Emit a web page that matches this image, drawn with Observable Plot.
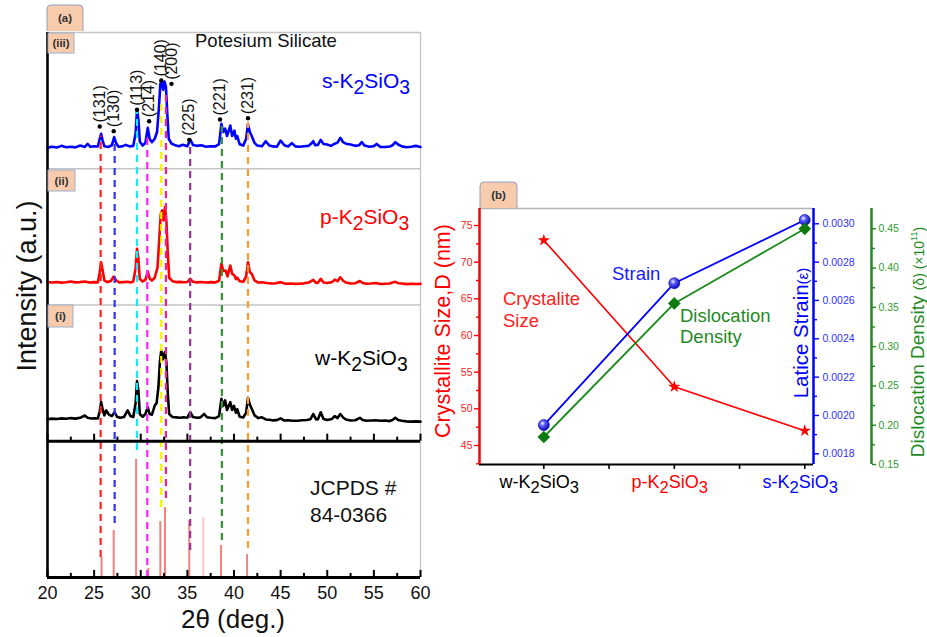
<!DOCTYPE html>
<html><head><meta charset="utf-8">
<script src="https://cdn.jsdelivr.net/npm/d3@7"></script>
<script src="https://cdn.jsdelivr.net/npm/@observablehq/plot@0.6"></script>
<style>
body{margin:0;background:#fff;}
#root{position:relative;width:927px;height:637px;overflow:hidden;background:#fff;}
</style></head><body><div id="root"></div>
<script>
const FONT = "Arial, 'Liberation Sans', Helvetica, sans-serif";

// ---------------- Panel (a): XRD patterns ----------------
const sK2SiO3 = [[20.0,15.5],[20.5,16.2],[21.0,15.6],[21.5,16.8],[22.0,15.8],[22.5,16.2],[23.0,15.7],[23.5,17.0],[24.0,16.0],[24.3,18.2],[24.6,16.1],[25.0,16.5],[25.4,16.3],[25.6,22],[25.75,25.6],[25.9,21],[26.1,16.5],[26.5,16.0],[26.9,17.2],[27.15,23.2],[27.35,19],[27.6,16.2],[28.0,16.4],[28.4,17.5],[28.8,16.4],[29.2,16.8],[29.45,26],[29.6,43.3],[29.75,36],[29.9,20],[30.2,17],[30.5,19],[30.75,30],[30.95,22],[31.2,19.5],[31.5,22],[31.75,27],[31.95,45],[32.1,62],[32.25,64.8],[32.4,58],[32.55,64],[32.7,60],[32.85,40],[33.0,22],[33.3,18.5],[33.7,17.2],[34.1,16.5],[34.5,17.6],[35.0,16.5],[35.3,21.5],[35.6,17.5],[36.0,16.8],[36.5,17.2],[37.0,16.2],[37.5,16.5],[38.0,16.4],[38.4,18],[38.65,33],[38.85,27],[39.05,29.5],[39.25,24],[39.6,31.7],[39.8,24],[40.05,28],[40.2,22],[40.35,24],[40.6,18],[41.0,17],[41.3,22],[41.5,32.5],[41.7,27],[41.9,24],[42.2,19],[42.5,17],[43.0,16.5],[43.4,20.2],[43.8,17.0],[44.2,16.4],[44.6,16.2],[45.0,20.7],[45.4,17.2],[45.8,16.3],[46.2,18.8],[46.6,16.4],[47.0,16.2],[47.5,16.5],[48.0,16.8],[48.3,18.5],[48.5,20.2],[48.7,17.2],[49.0,17.5],[49.3,21.2],[49.6,18.2],[50.0,17.8],[50.4,16.8],[50.8,18.4],[51.1,19.2],[51.4,22.7],[51.7,19.5],[52.0,18.4],[52.5,17.8],[53.0,16.8],[53.4,17.2],[53.7,19.5],[54.0,17.0],[54.5,16.2],[55.0,16.6],[55.3,18.2],[55.7,16.0],[56.2,16.0],[56.7,16.3],[57.0,17.2],[57.3,19.5],[57.6,17.8],[58.0,16.4],[58.5,15.8],[59.0,16.2],[59.5,16.8],[60.0,16.0]];

const pK2SiO3 = [[20.0,16.8],[20.5,16.5],[21.0,16.9],[21.5,16.4],[22.0,16.7],[22.5,17.2],[23.0,16.6],[23.5,16.8],[24.0,17.3],[24.5,16.5],[25.0,16.8],[25.4,16.6],[25.6,24],[25.75,31.4],[25.9,26],[26.1,18],[26.4,16.8],[26.8,17.6],[27.1,20.9],[27.35,18],[27.7,16.6],[28.1,16.8],[28.5,17.0],[28.9,16.6],[29.2,17.2],[29.45,27],[29.6,41.2],[29.75,34],[29.9,19],[30.2,17.3],[30.5,18.5],[30.75,24.6],[30.95,19.5],[31.2,18],[31.5,20],[31.8,27.7],[32.0,50],[32.15,67],[32.3,69.4],[32.45,62],[32.6,71.8],[32.75,62],[32.9,38],[33.05,20],[33.4,17.5],[33.8,16.8],[34.2,17.0],[34.6,16.7],[35.0,16.9],[35.3,19.2],[35.6,17.0],[36.0,16.6],[36.5,16.9],[37.0,16.5],[37.5,16.8],[38.0,16.6],[38.4,17.8],[38.65,30.5],[38.85,25],[39.1,25.3],[39.3,21],[39.6,29],[39.8,23],[40.05,21.7],[40.2,19],[40.35,20],[40.6,17.5],[41.0,17],[41.3,21],[41.5,31.4],[41.7,24],[41.9,22.9],[42.2,18],[42.6,16.5],[43.0,16.7],[43.5,16.2],[44.0,15.8],[44.5,16.0],[45.0,16.8],[45.5,15.6],[46.0,15.8],[46.5,15.5],[47.0,15.6],[47.5,15.9],[48.0,16.5],[48.5,18.5],[48.8,16.2],[49.0,16.4],[49.3,19.2],[49.6,16.5],[50.0,16.2],[50.5,16.8],[50.8,18.6],[51.1,17.5],[51.4,20.4],[51.7,17.8],[52.0,16.5],[52.5,15.8],[53.0,16.0],[53.5,17.6],[53.8,16.2],[54.2,15.6],[54.7,15.8],[55.2,16.2],[55.7,15.4],[56.2,15.6],[56.7,15.8],[57.0,16.5],[57.3,17.0],[57.6,16.0],[58.0,15.8],[58.5,15.3],[59.0,15.6],[59.5,15.4],[60.0,15.5]];

const wK2SiO3 = [[20.0,16.2],[20.5,16.6],[21.0,16.3],[21.5,16.8],[22.0,16.5],[22.5,17.0],[23.0,16.6],[23.5,17.2],[24.0,18.9],[24.3,17.3],[24.7,16.7],[25.0,16.9],[25.4,16.8],[25.6,22],[25.75,28.7],[25.9,24],[26.1,19],[26.3,22.6],[26.6,19.5],[26.9,18.5],[27.2,21.3],[27.45,18],[27.8,17.2],[28.2,17.8],[28.6,22.6],[28.9,18.5],[29.2,17.8],[29.45,28],[29.6,44.1],[29.75,37],[29.9,20],[30.2,18],[30.5,20],[30.75,25],[30.95,20],[31.2,19.5],[31.5,26.2],[31.7,28],[31.9,40],[32.05,58],[32.2,66.6],[32.35,60],[32.5,64],[32.6,65.4],[32.75,58],[32.9,35],[33.05,20],[33.4,17.8],[33.8,17.5],[34.2,17.2],[34.6,17.6],[35.0,17.3],[35.3,21.3],[35.6,17.8],[36.0,17.2],[36.4,17.5],[36.8,20],[37.1,17.6],[37.5,17.2],[38.0,17.0],[38.4,18.5],[38.65,31.2],[38.85,26],[39.05,30],[39.25,23],[39.6,28.7],[39.8,23],[40.0,26],[40.2,21],[40.35,23.5],[40.6,18],[41.0,17.5],[41.3,21],[41.5,31.9],[41.7,27],[41.9,23.8],[42.2,19],[42.6,17],[43.0,17.6],[43.4,16],[43.8,15.8],[44.2,15.3],[44.6,15.5],[45.0,16.8],[45.4,15.2],[45.8,15.4],[46.3,15.1],[46.8,15.0],[47.3,15.4],[47.8,15.6],[48.2,16.2],[48.5,20],[48.8,16.0],[49.0,16.2],[49.3,21.3],[49.6,16.4],[50.0,15.6],[50.5,16.4],[50.8,18.5],[51.1,17.0],[51.4,20],[51.7,17.4],[52.0,16],[52.5,15.2],[53.0,15.4],[53.5,17.2],[53.8,15.6],[54.2,15.0],[54.7,15.2],[55.2,15.4],[55.7,15.0],[56.2,15.2],[56.7,14.8],[57.0,15.6],[57.3,17.2],[57.6,15.6],[58.0,15.0],[58.5,14.6],[59.0,14.4],[59.5,14.6],[60.0,14.4]];

// JCPDS 84-0366 reference sticks
const jcpdsTheta = [25.8, 27.1, 29.5, 30.8, 32.1, 32.6, 35.2, 36.7, 38.6, 41.4];
const jcpdsInt   = [14.7, 34.5, 86.6, 6.6, 41.1, 51.4, 41.8, 44.0, 23.5, 16.9];
const stickColors = ["#f58080","#f58080","#f58080","#f58080","#f58080","#f58080","#f58080","#fcc8c8","#f58080","#f58080"];

// guide lines through the peaks
const guideTheta  = [25.7, 27.2, 29.6, 30.7, 32.2, 32.7, 35.3, 38.7, 41.5];
const guideTop    = [324, 318, 342, 325, 350, 356, 316, 331, 334];
const guideBottom = [14.7, 39.6, 93.2, 0, 51.4, 58, 19.8, 27.2, 21.3];
const guideColors = ["#ff2020","#3030ff","#20e4ee","#ff20ff","#f2f200","#ff1a8c","#993399","#2e9a2e","#ff9a33"];

// Miller indices
const hklLabels = ["(131)","(130)","(113)","(214)","(140)","(200)","(225)","(221)","(231)"];
const hklTheta  = [25.6, 27.1, 29.6, 30.9, 32.2, 33.3, 35.2, 38.5, 41.5];
const hklY      = [331, 327.6, 343.3, 334.9, 364.8, 362.3, 321.2, 336.1, 337.1];

const xTicksMajor = [20,25,30,35,40,45,50,55,60];
const xTicksMinor = [22.5,27.5,32.5,37.5,42.5,47.5,52.5,57.5];

// ---------------- Panel (b) ----------------
const samples = ["w-K2SiO3", "p-K2SiO3", "s-K2SiO3"];
const crystalliteSize = [73, 53, 47];          // nm
const latticeStrain   = [0.00195, 0.00269, 0.00302];
const dislocation     = [0.185, 0.355, 0.45];  // x10^11
const sizeTicks = [45,50,55,60,65,70,75];
const sizeMinor = [42.5,47.5,52.5,57.5,62.5,67.5,72.5];
const strainTicks = [0.0018,0.0020,0.0022,0.0024,0.0026,0.0028,0.0030];
const strainMinor = [0.0019,0.0021,0.0023,0.0025,0.0027,0.0029];
const disTicks = [0.15,0.20,0.25,0.30,0.35,0.40,0.45];
const disMinor = [0.175,0.225,0.275,0.325,0.375,0.425];
const sampleColors = ["#000000", "#ff0000", "#0000ff"];

// ---------------- helpers ----------------
const root = document.getElementById("root");
const baseStyle = {position: "absolute", left: "0px", top: "0px", background: "transparent", fontFamily: FONT, overflow: "visible"};

function richParts(svg, parts, {x, y, fill = "#000", anchor = "start", rotate = 0, weight = "normal"}) {
  const t = d3.select(svg).append("text")
    .attr("transform", `translate(${x},${y})` + (rotate ? ` rotate(${rotate})` : ""))
    .attr("font-family", FONT).attr("fill", fill)
    .attr("text-anchor", anchor).attr("font-weight", weight);
  let shift = 0;
  for (const [txt, size, dy] of parts) {
    t.append("tspan").text(txt).attr("font-size", size).attr("dy", dy - shift);
    shift = dy;
  }
  return t;
}
function chem(svg, str, size, opts) {
  // digits following a letter become subscripts
  const parts = [];
  str.split(/(?<=[A-Za-z])(\d+)/).forEach((p, i) => {
    if (!p) return;
    if (i % 2 === 1) parts.push([p, size * 0.92, size * 0.3]);
    else parts.push([p, size, 0]);
  });
  return richParts(svg, parts, opts);
}
function tab(svg, x0, y0, x1, y1, label, rounded) {
  const s = d3.select(svg);
  if (rounded) {
    s.append("path").attr("d", `M${x0},${y1} V${y0+4} Q${x0},${y0} ${x0+4},${y0} H${x1-4} Q${x1},${y0} ${x1},${y0+4} V${y1}`)
      .attr("fill", "#f8cbad").attr("stroke", "#8da0c0").attr("stroke-width", 1);
  } else {
    s.append("rect").attr("x", x0).attr("y", y0).attr("width", x1 - x0).attr("height", y1 - y0)
      .attr("fill", "#f8cbad").attr("stroke", "#9fb0cc").attr("stroke-width", 1);
  }
  s.append("text").attr("x", (x0 + x1) / 2).attr("y", (y0 + y1) / 2 + 4).attr("text-anchor", "middle")
    .attr("font-family", FONT).attr("font-size", 11.5).attr("font-weight", "bold").attr("fill", "#333").text(label);
}

// ---------------- Plot A ----------------
const toRows = (pairs, off) => pairs.map(([t, v]) => ({t, y: v + off}));
const jcpdsRows = jcpdsTheta.map((t, i) => ({t, h: jcpdsInt[i], c: stickColors[i]}));
const guideRows = guideTheta.map((t, i) => ({t, y1: guideBottom[i], y2: guideTop[i], c: guideColors[i]}));
const hklRows = hklTheta.map((t, i) => ({t, y: hklY[i], label: hklLabels[i]}));
const tickRows = (ts, len) => ts.flatMap(t => [{t, b: 0, e: len}, {t, b: 100, e: 100 + len}]);

const plotA = Plot.plot({
  width: 927, height: 637,
  marginLeft: 47, marginRight: 507, marginTop: 32, marginBottom: 60,
  x: {domain: [20, 60]},
  y: {domain: [0, 400], axis: null},
  color: {type: "identity"},
  style: baseStyle,
  marks: [
    Plot.ruleY([200, 300, 400], {stroke: "#c4c4c4", strokeWidth: 1.3}),
    Plot.ruleX([60], {stroke: "#c4c4c4", strokeWidth: 1.3}),
    Plot.ruleX(jcpdsRows, {x: "t", y1: 0, y2: "h", stroke: "c", strokeWidth: 2}),
    Plot.line(toRows(wK2SiO3, 100), {x: "t", y: "y", stroke: "#000000", strokeWidth: 2.6}),
    Plot.line(toRows(pK2SiO3, 200), {x: "t", y: "y", stroke: "#ff0000", strokeWidth: 2.6}),
    Plot.line(toRows(sK2SiO3, 300), {x: "t", y: "y", stroke: "#0000ff", strokeWidth: 2.6}),
    Plot.ruleX(guideRows, {x: "t", y1: "y1", y2: "y2", stroke: "c", strokeWidth: 2.2, strokeDasharray: "7,5"}),
    Plot.ruleY([0, 100], {stroke: "#000", strokeWidth: 2.8}),
    Plot.ruleX([20], {stroke: "#000", strokeWidth: 2.6}),
    Plot.ruleX(tickRows(xTicksMajor, 5.2), {x: "t", y1: "b", y2: "e", stroke: "#000", strokeWidth: 2}),
    Plot.ruleX(tickRows(xTicksMinor, 3), {x: "t", y1: "b", y2: "e", stroke: "#000", strokeWidth: 2}),
    Plot.axisX({anchor: "bottom", ticks: xTicksMajor, tickSize: 0, tickPadding: 9, fontSize: 18, label: null, fill: "#111"}),
    Plot.dot(hklRows, {x: "t", y: "y", r: 2.2, fill: "#000"}),
    Plot.text(hklRows, {x: "t", y: "y", text: "label", rotate: -90, textAnchor: "start", dy: -4, fontSize: 16, fill: "#111"})
  ]
});
root.appendChild(plotA);

// texts of panel (a)
richParts(plotA, [["Potesium Silicate", 18.5, 0]], {x: 195, y: 47, fill: "#111"});
chem(plotA, "s-K2SiO3", 21, {x: 322, y: 88, fill: "#0000ff"});
chem(plotA, "p-K2SiO3", 21, {x: 320, y: 224, fill: "#ff0000"});
chem(plotA, "w-K2SiO3", 21, {x: 315, y: 365, fill: "#000"});
richParts(plotA, [["JCPDS #", 21, 0]], {x: 310, y: 495, fill: "#111"});
richParts(plotA, [["84-0366", 21, 0]], {x: 310, y: 522, fill: "#111"});
richParts(plotA, [["Intensity (a.u.)", 27, 0]], {x: 36, y: 286, rotate: -90, anchor: "middle", fill: "#111"});
richParts(plotA, [["2θ (deg.)", 26, 0]], {x: 233, y: 628, anchor: "middle", fill: "#111"});
tab(plotA, 47, 5, 83, 31, "(a)", true);
tab(plotA, 48, 33, 74, 53, "(iii)", false);
tab(plotA, 48, 170, 75, 191, "(ii)", false);
tab(plotA, 48, 305, 73, 327, "(i)", false);

// ---------------- Plot B (three overlaid y scales) ----------------
const rowsB = samples.map((s, i) => ({i: i + 1, size: crystalliteSize[i], strain: latticeStrain[i], dis: dislocation[i]}));
const xB = [0.507, 3.067];
const frameB = {width: 927, height: 637, marginLeft: 479, marginRight: 114, marginTop: 208, marginBottom: 173, style: baseStyle};

const plotB1 = Plot.plot({
  ...frameB,
  x: {domain: xB},
  y: {domain: [42.41, 77.32]},
  marks: [
    Plot.ruleY([77.32], {stroke: "#b4b4b4", strokeWidth: 1.3}),
    Plot.ruleY([42.41], {stroke: "#000", strokeWidth: 2}),
    Plot.axisX({anchor: "bottom", ticks: [1, 1.5, 2, 2.5, 3], tickSize: 5, fill: "none", stroke: "#000", strokeWidth: 1.6, label: null}),
    Plot.ruleX([xB[0]], {stroke: "#ff0000", strokeWidth: 2.5}),
    Plot.axisY({anchor: "left", ticks: sizeTicks, tickSize: 5, tickPadding: 2, fontSize: 10.5, stroke: "#ff0000", fill: "#ff1a1a", strokeWidth: 1.4, label: null}),
    Plot.axisY({anchor: "left", ticks: sizeMinor, tickSize: 3, fill: "none", stroke: "#ff0000", strokeWidth: 1.4, label: null}),
    Plot.line(rowsB, {x: "i", y: "size", stroke: "#ff0000", strokeWidth: 1.6}),
    Plot.dot(rowsB, {x: "i", y: "size", symbol: "star", r: 3.9, fill: "#ff0000"})
  ]
});
root.appendChild(plotB1);

const plotB2 = Plot.plot({
  ...frameB,
  x: {domain: xB, axis: null},
  y: {domain: [0.0017442, 0.0030798]},
  marks: [
    Plot.ruleX([xB[1]], {stroke: "#0000ff", strokeWidth: 2.5}),
    Plot.axisY({anchor: "right", ticks: strainTicks, tickFormat: d3.format(".4f"), tickSize: 5, tickPadding: 4, fontSize: 10.5, stroke: "#0000ff", fill: "#3030ff", strokeWidth: 1.4, label: null}),
    Plot.axisY({anchor: "right", ticks: strainMinor, tickSize: 3, fill: "none", stroke: "#0000ff", strokeWidth: 1.4, label: null}),
    Plot.line(rowsB, {x: "i", y: "strain", stroke: "#0000ff", strokeWidth: 1.8}),
    Plot.dot(rowsB, {x: "i", y: "strain", r: 5.5, fill: "#0000ff", stroke: "#00009a", strokeWidth: 0.6})
  ]
});
root.appendChild(plotB2);
{
  const g = d3.select(plotB2).append("defs").append("radialGradient").attr("id", "sph").attr("cx", "0.38").attr("cy", "0.35").attr("r", "0.7");
  g.append("stop").attr("offset", "0").attr("stop-color", "#f4f4ff");
  g.append("stop").attr("offset", "0.35").attr("stop-color", "#5a5aff");
  g.append("stop").attr("offset", "1").attr("stop-color", "#0000a8");
  d3.select(plotB2).selectAll("circle").attr("fill", "url(#sph)");
}

const plotB3 = Plot.plot({
  ...frameB,
  x: {domain: xB, axis: null},
  y: {domain: [0.15, 0.47584]},
  marks: [
    Plot.ruleX([xB[1]], {dx: 58, stroke: "#1f8a1f", strokeWidth: 2.5}),
    Plot.axisY({anchor: "right", dx: 58, ticks: disTicks, tickFormat: d3.format(".2f"), tickSize: 4, tickPadding: 3, fontSize: 10.5, stroke: "#1f8a1f", fill: "#2e9a2e", strokeWidth: 1.4, label: null}),
    Plot.axisY({anchor: "right", dx: 58, ticks: disMinor, tickSize: 3, fill: "none", stroke: "#1f8a1f", strokeWidth: 1.4, label: null}),
    Plot.line(rowsB, {x: "i", y: "dis", stroke: "#1a8a1a", strokeWidth: 1.8}),
    Plot.dot(rowsB, {x: "i", y: "dis", symbol: "diamond2", r: 5.7, fill: "#0f7a0f"})
  ]
});
root.appendChild(plotB3);

// category labels of panel (b), positioned with the x scale
const xsB = plotB1.scale("x");
samples.forEach((s, i) => chem(plotB3, s, 18, {x: xsB.apply(i + 1) - 4, y: 488, anchor: "middle", fill: sampleColors[i]}));

// axis titles & annotations of panel (b)
richParts(plotB3, [["Crystallite Size,D (nm)", 21.5, 0]], {x: 450, y: 331, rotate: -90, anchor: "middle", fill: "#ff0000"});
richParts(plotB3, [["Latice Strain", 20.5, 0], ["(ε)", 15, 0]], {x: 808, y: 333, rotate: -90, anchor: "middle", fill: "#0000ff"});
richParts(plotB3, [["Dislocation Density ", 19, 0], ["(δ) (×10", 14, 0], ["11", 9, -7], [")", 14, 0]], {x: 924, y: 342, rotate: -90, anchor: "middle", fill: "#1f8a1f"});
richParts(plotB3, [["Crystalite", 18.5, 0]], {x: 503, y: 305, fill: "#ff2020"});
richParts(plotB3, [["Size", 18.5, 0]], {x: 503, y: 327, fill: "#ff2020"});
richParts(plotB3, [["Strain", 18.5, 0]], {x: 612, y: 280, fill: "#1a1aff"});
richParts(plotB3, [["Dislocation", 18.5, 0]], {x: 680, y: 322, fill: "#1f8a1f"});
richParts(plotB3, [["Density", 18.5, 0]], {x: 680, y: 343, fill: "#1f8a1f"});
tab(plotB3, 480, 182, 517, 208, "(b)", true);
</script></body></html>
